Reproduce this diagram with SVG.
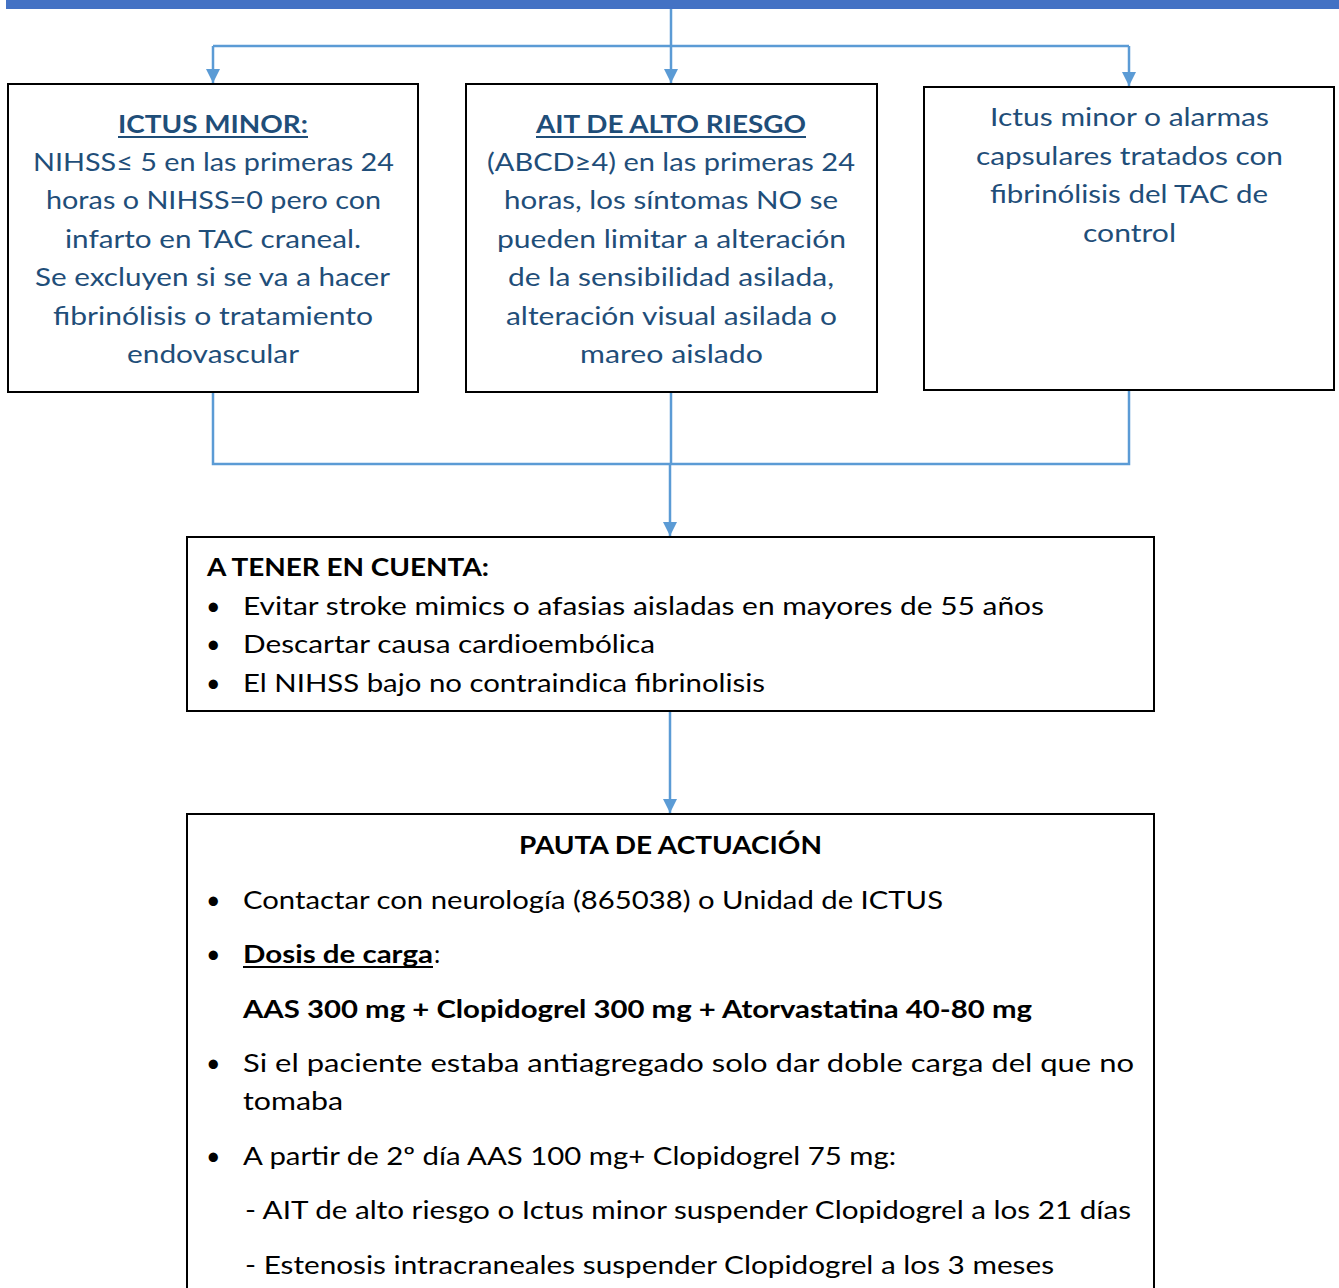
<svg xmlns="http://www.w3.org/2000/svg" width="1339" height="1288" viewBox="0 0 1339 1288">
  <style>
    .box { fill: #ffffff; stroke: #000000; stroke-width: 2; }
    .conn { fill: none; stroke: #5B9BD5; stroke-width: 2.5; }
    .t { font-family: Lato, "Open Sans", "Liberation Sans", sans-serif; font-size: 25px; }
    .blue { fill: #1F4E79; }
    .black { fill: #000000; }
    .b { font-weight: bold; }
    .c { text-anchor: middle; }
    .ul { stroke-width: 2; }
  </style>
  <defs>
    <marker id="arrow" viewBox="0 0 14 14" refX="14" refY="7" markerWidth="14" markerHeight="14" markerUnits="userSpaceOnUse" orient="auto">
      <path d="M0,0 L14,7 L0,14 Z" fill="#5B9BD5"/>
    </marker>
  </defs>

  <rect width="1339" height="1288" fill="#ffffff"/>

  <!-- header bar -->
  <rect x="6" y="0" width="1333" height="9" fill="#4472C4"/>

  <!-- connectors -->
  <g id="connectors">
    <path class="conn" d="M671,9 V83" marker-end="url(#arrow)"/>
    <path class="conn" d="M213,46 H1129"/>
    <path class="conn" d="M213,46 V83" marker-end="url(#arrow)"/>
    <path class="conn" d="M1129,46 V86" marker-end="url(#arrow)"/>
    <path class="conn" d="M213,392 V464 H1129 V390"/>
    <path class="conn" d="M671,392 V464"/>
    <path class="conn" d="M670,464 V536" marker-end="url(#arrow)"/>
    <path class="conn" d="M670,711 V813" marker-end="url(#arrow)"/>
  </g>

  <!-- ICTUS MINOR -->
  <g id="ictus-minor">
    <rect class="box" x="8" y="84" width="410" height="308"/>
    <text class="t blue b c" x="213" y="132.5" textLength="190" lengthAdjust="spacingAndGlyphs">ICTUS MINOR:</text>
    <line class="ul" x1="118" y1="137" x2="308" y2="137" stroke="#1F4E79"/>
    <text class="t blue c" x="213.5" y="170.5" textLength="361" lengthAdjust="spacingAndGlyphs">NIHSS≤ 5 en las primeras 24</text>
    <text class="t blue c" x="213.5" y="209" textLength="335" lengthAdjust="spacingAndGlyphs">horas o NIHSS=0 pero con</text>
    <text class="t blue c" x="213" y="247.5" textLength="296" lengthAdjust="spacingAndGlyphs">infarto en TAC craneal.</text>
    <text class="t blue c" x="212.5" y="286" textLength="355" lengthAdjust="spacingAndGlyphs">Se excluyen si se va a hacer</text>
    <text class="t blue c" x="213" y="324.5" textLength="320" lengthAdjust="spacingAndGlyphs">fibrinólisis o tratamiento</text>
    <text class="t blue c" x="213" y="363" textLength="172" lengthAdjust="spacingAndGlyphs">endovascular</text>
  </g>

  <!-- AIT DE ALTO RIESGO -->
  <g id="ait-alto-riesgo">
    <rect class="box" x="466" y="84" width="411" height="308"/>
    <text class="t blue b c" x="671" y="132.5" textLength="270" lengthAdjust="spacingAndGlyphs">AIT DE ALTO RIESGO</text>
    <line class="ul" x1="536" y1="137" x2="806" y2="137" stroke="#1F4E79"/>
    <text class="t blue c" x="671" y="170.5" textLength="368" lengthAdjust="spacingAndGlyphs">(ABCD≥4) en las primeras 24</text>
    <text class="t blue c" x="671" y="209" textLength="334" lengthAdjust="spacingAndGlyphs">horas, los síntomas NO se</text>
    <text class="t blue c" x="671.5" y="247.5" textLength="349" lengthAdjust="spacingAndGlyphs">pueden limitar a alteración</text>
    <text class="t blue c" x="671" y="286" textLength="326" lengthAdjust="spacingAndGlyphs">de la sensibilidad asilada,</text>
    <text class="t blue c" x="671.5" y="324.5" textLength="331" lengthAdjust="spacingAndGlyphs">alteración visual asilada o</text>
    <text class="t blue c" x="671.5" y="363" textLength="183" lengthAdjust="spacingAndGlyphs">mareo aislado</text>
  </g>

  <!-- Ictus minor o alarmas capsulares -->
  <g id="alarmas-capsulares">
    <rect class="box" x="924" y="87" width="410" height="303"/>
    <text class="t blue c" x="1129.5" y="126" textLength="279" lengthAdjust="spacingAndGlyphs">Ictus minor o alarmas</text>
    <text class="t blue c" x="1129.5" y="164.5" textLength="307" lengthAdjust="spacingAndGlyphs">capsulares tratados con</text>
    <text class="t blue c" x="1129" y="203" textLength="278" lengthAdjust="spacingAndGlyphs">fibrinólisis del TAC de</text>
    <text class="t blue c" x="1129.5" y="241.5" textLength="93" lengthAdjust="spacingAndGlyphs">control</text>
  </g>

  <!-- A TENER EN CUENTA -->
  <g id="a-tener-en-cuenta">
    <rect class="box" x="187" y="537" width="967" height="174"/>
    <text class="t black b" x="207" y="576" textLength="282" lengthAdjust="spacingAndGlyphs">A TENER EN CUENTA:</text>
    <text class="t black" x="206" y="614.5">•</text>
    <text class="t black" x="243" y="614.5" textLength="801" lengthAdjust="spacingAndGlyphs">Evitar stroke mimics o afasias aisladas en mayores de 55 años</text>
    <text class="t black" x="206" y="653">•</text>
    <text class="t black" x="243" y="653" textLength="412" lengthAdjust="spacingAndGlyphs">Descartar causa cardioembólica</text>
    <text class="t black" x="206" y="691.5">•</text>
    <text class="t black" x="243" y="691.5" textLength="522" lengthAdjust="spacingAndGlyphs">El NIHSS bajo no contraindica fibrinolisis</text>
  </g>

  <!-- PAUTA DE ACTUACION -->
  <g id="pauta-de-actuacion">
    <rect class="box" x="187" y="814" width="967" height="490"/>
    <text class="t black b c" x="670.5" y="853.5" textLength="303" lengthAdjust="spacingAndGlyphs">PAUTA DE ACTUACIÓN</text>
    <text class="t black" x="206" y="908.5">•</text>
    <text class="t black" x="243" y="908.5" textLength="700" lengthAdjust="spacingAndGlyphs">Contactar con neurología (865038) o Unidad de ICTUS</text>
    <text class="t black" x="206" y="962.5">•</text>
    <text class="t black b" x="243" y="962.5" textLength="190" lengthAdjust="spacingAndGlyphs">Dosis de carga</text>
    <line class="ul" x1="243" y1="967" x2="433" y2="967" stroke="#000000"/>
    <text class="t black" x="434" y="962.5">:</text>
    <text class="t black b" x="243" y="1017.5" textLength="789" lengthAdjust="spacingAndGlyphs">AAS 300 mg + Clopidogrel 300 mg + Atorvastatina 40-80 mg</text>
    <text class="t black" x="206" y="1071.5">•</text>
    <text class="t black" x="243" y="1071.5" textLength="891" lengthAdjust="spacingAndGlyphs">Si el paciente estaba antiagregado solo dar doble carga del que no</text>
    <text class="t black" x="243" y="1110" textLength="100" lengthAdjust="spacingAndGlyphs">tomaba</text>
    <text class="t black" x="206" y="1164.5">•</text>
    <text class="t black" x="243" y="1164.5" textLength="653" lengthAdjust="spacingAndGlyphs">A partir de 2º día AAS 100 mg+ Clopidogrel 75 mg:</text>
    <text class="t black" x="245" y="1218.5" textLength="886" lengthAdjust="spacingAndGlyphs">- AIT de alto riesgo o Ictus minor suspender Clopidogrel a los 21 días</text>
    <text class="t black" x="245" y="1273.5" textLength="809" lengthAdjust="spacingAndGlyphs">- Estenosis intracraneales suspender Clopidogrel a los 3 meses</text>
  </g>
</svg>
